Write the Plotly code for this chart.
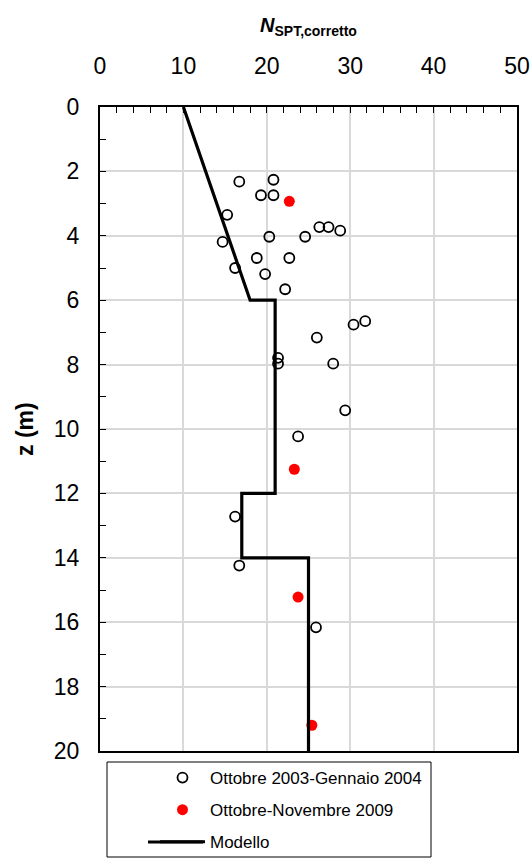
import plotly.graph_objects as go

# Data
old_n = [16.7, 20.8, 19.3, 20.8, 15.25, 26.3, 27.4, 28.8, 14.7, 20.3, 24.6, 18.8, 22.7, 16.2, 19.8, 22.2,
         30.4, 31.8, 26.0, 21.35, 21.35, 27.96, 29.4, 23.75, 16.2, 16.7, 25.9]
old_z = [2.32, 2.26, 2.74, 2.74, 3.35, 3.73, 3.73, 3.84, 4.19, 4.03, 4.03, 4.69, 4.69, 5.0, 5.19, 5.66,
         6.76, 6.65, 7.16, 7.79, 7.97, 7.97, 9.42, 10.23, 12.72, 14.24, 16.16]
new_n = [22.7, 23.3, 23.75, 25.4]
new_z = [2.93, 11.25, 15.22, 19.2]
model_n = [10, 18, 21, 21, 17, 17, 25, 25]
model_z = [0, 6, 6, 12, 12, 14, 14, 20]

x_ticks = [0, 10, 20, 30, 40, 50]
z_ticks = [0, 2, 4, 6, 8, 10, 12, 14, 16, 18, 20]

FONT = "Liberation Sans, Arial, sans-serif"

fig = go.Figure()
fig.add_trace(go.Scatter(x=old_n, y=old_z, mode="markers", name="Ottobre 2003-Gennaio 2004",
                         legendgroup="a",
                         marker=dict(symbol="circle-open", size=10, color="black", line=dict(width=1.8, color="black"))))
fig.add_trace(go.Scatter(x=new_n, y=new_z, mode="markers", name="Ottobre-Novembre 2009",
                         legendgroup="b",
                         marker=dict(symbol="circle", size=11, color="#ff0000")))
fig.add_trace(go.Scatter(x=model_n, y=model_z, mode="lines", name="Modello",
                         legendgroup="c",
                         line=dict(color="black", width=3.2)))

W, H = 530, 862
L, R, T, B = 100, 13, 107, 111
pw = W - L - R
ph = H - T - B


def px_x(p):
    return (p - L) / pw


def px_y(p):
    return (H - B - p) / ph


fig.update_layout(
    width=W, height=H,
    margin=dict(l=L, r=R, t=T, b=B, autoexpand=False),
    paper_bgcolor="white", plot_bgcolor="white",
    font=dict(family=FONT, size=18, color="black"),
    showlegend=True,
    legend=dict(
        xref="container", yref="container",
        x=155 / W, xanchor="left",
        y=1 - 760 / H, yanchor="top",
        bgcolor="rgba(0,0,0,0)", borderwidth=0,
        font=dict(family=FONT, size=17, color="black"),
        itemwidth=45, traceorder="grouped", tracegroupgap=7,
    ),
    xaxis=dict(
        side="top", range=[0, 50], tickvals=x_ticks, ticktext=[str(v) for v in x_ticks],
        showgrid=True, gridcolor="#d9d9d9", gridwidth=1.5,
        showline=True, linecolor="black", linewidth=2, mirror=True,
        ticks="inside", ticklen=6, tickcolor="black", tickwidth=1,
        minor=dict(dtick=2, ticks="inside", ticklen=6, tickcolor="black", showgrid=False),
        tickfont=dict(family=FONT, size=23), ticklabelstandoff=22,
        zeroline=False,
    ),
    yaxis=dict(
        range=[20, 0], tickvals=z_ticks, ticktext=[str(v) for v in z_ticks],
        showgrid=True, gridcolor="#d9d9d9", gridwidth=1.5,
        showline=True, linecolor="black", linewidth=2, mirror=True,
        ticks="inside", ticklen=6, tickcolor="black", tickwidth=1,
        minor=dict(dtick=1, ticks="inside", ticklen=6, tickcolor="black", showgrid=False),
        tickfont=dict(family=FONT, size=23), ticklabelstandoff=14,
        zeroline=False,
    ),
    annotations=[
        dict(text="<b><i>N</i><sub>SPT,corretto</sub></b>", xref="paper", yref="paper",
             x=0.5, y=px_y(27), xanchor="center", yanchor="middle", showarrow=False,
             font=dict(family=FONT, size=20, color="black")),
        dict(text="<b>z (m)</b>", xref="paper", yref="paper",
             x=px_x(25), y=0.5, xanchor="center", yanchor="middle", showarrow=False, textangle=-90,
             font=dict(family=FONT, size=23, color="black")),
    ],
)

# Legend frame
fig.add_shape(type="rect", xref="paper", yref="paper",
              x0=px_x(107), x1=px_x(431), y0=px_y(857), y1=px_y(762),
              line=dict(color="black", width=1), fillcolor="rgba(0,0,0,0)", layer="above")
# Longer legend line sample for "Modello"
fig.add_shape(type="line", xref="paper", yref="paper",
              x0=px_x(148), x1=px_x(203), y0=px_y(842), y1=px_y(842),
              line=dict(color="black", width=3.2), layer="above")

fig.write_html("out.html")
